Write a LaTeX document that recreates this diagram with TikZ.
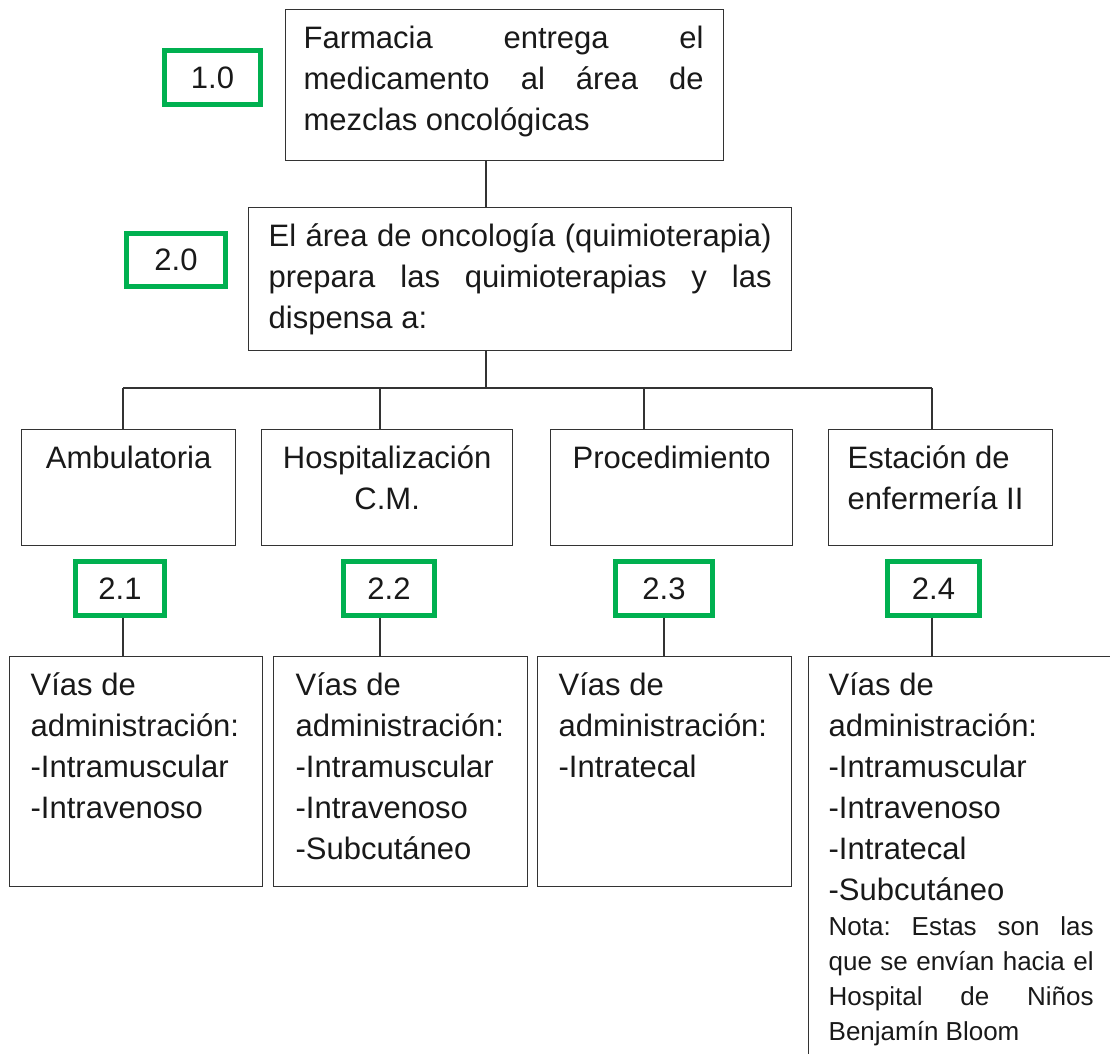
\documentclass[tikz,border=0pt]{standalone}
\usepackage{fontspec}
\setmainfont{Liberation Sans}
\definecolor{verde}{HTML}{00B050}
\frenchspacing
\hyphenpenalty=10000
\tolerance=10000
\hbadness=10000
\tikzstyle{caja}=[draw=black!80, line width=1.3pt, inner sep=0, anchor=north west,
                  text=black!90]
\tikzstyle{num}=[draw=verde, line width=4.5pt, inner sep=0, minimum height=54pt,
                 text=black!90]
\tikzstyle{linea}=[draw=black!80, line width=1.3pt]
% width, height, left and right margin, text
\newcommand{\bloque}[5]{\parbox[t][#2][t]{#1}{\leftskip=#3\relax\rightskip=#4\relax
  \rule{0pt}{39pt}#5}}

\begin{document}
\begin{tikzpicture}[x=1pt, y=-1pt, font=\fontsize{31}{41}\selectfont]
\clip (0,0) rectangle (1110,1053);
% farmacia y oncologia
\node[caja] (b1) at (285,9) {\bloque{438pt}{151pt}{18pt}{20pt}{Farmacia entrega
  el\linebreak medicamento al área de\linebreak mezclas oncológicas}};
\node[caja] (b2) at (248,207) {\bloque{543pt}{143pt}{20pt}{20pt}{El área de
  oncología (quimioterapia)\linebreak prepara las quimioterapias y
  las\linebreak dispensa a:}};
\node[num, minimum width=96pt] (g10) at (212.5,77.5) {1.0};
\node[num, minimum width=99pt, minimum height=53pt] (g20) at (176,260) {2.0};
% servicios
\node[caja] (amb) at (21,429) {\bloque{214pt}{116pt}{0pt}{0pt}{\centering Ambulatoria}};
\node[caja] (hosp) at (261,429) {\bloque{251pt}{116pt}{0pt}{0pt}{\centering
  Hospitalización\\C.M.}};
\node[caja] (proc) at (550,429) {\bloque{242pt}{116pt}{0pt}{0pt}{\centering Procedimiento}};
\node[caja] (est) at (828,429) {\bloque{224pt}{116pt}{19pt}{0pt}{Estación de\\enfermería II}};
\node[num, minimum width=89pt] (g21) at (120,588.5) {2.1};
\node[num, minimum width=91pt] (g22) at (389,588.5) {2.2};
\node[num, minimum width=97pt] (g23) at (664,588.5) {2.3};
\node[num, minimum width=92pt] (g24) at (933.5,588.5) {2.4};
% vias de administracion
\node[caja] (v1) at (9,656) {\bloque{253pt}{230pt}{21pt}{0pt}{Vías
  de\\administración:\\-Intramuscular\\-Intravenoso}};
\node[caja] (v2) at (273,656) {\bloque{254pt}{230pt}{22pt}{0pt}{Vías
  de\\administración:\\-Intramuscular\\-Intravenoso\\-Subcutáneo}};
\node[caja] (v3) at (537,656) {\bloque{254pt}{230pt}{21pt}{0pt}{Vías
  de\\administración:\\-Intratecal}};
\node[caja] (v4) at (808,656) {\bloque{330pt}{430pt}{20pt}{45pt}{Vías
  de\\administración:\\-Intramuscular\\-Intravenoso\\-Intratecal\\-Subcutáneo\par
  \fontsize{26}{35}\selectfont Nota: Estas son las\linebreak que se envían hacia
  el\linebreak Hospital de Niños\linebreak Benjamín Bloom}};
% conectores
\coordinate (bus) at (486,388);
\coordinate (k1) at (123,388);
\coordinate (k2) at (380,388);
\coordinate (k3) at (644,388);
\coordinate (k4) at (932,388);
\draw[linea] (b1.south -| bus) -- (b2.north -| bus);
\draw[linea] (b2.south -| bus) -- (bus);
\draw[linea] (k1) -- (k4);
\foreach \k/\n in {k1/amb,k2/hosp,k3/proc,k4/est}
  \draw[linea] (\k) -- (\k |- \n.north);
\draw[linea] (g21.south -| k1) -- (v1.north -| k1);
\draw[linea] (g22.south -| k2) -- (v2.north -| k2);
\draw[linea] (g23.south) -- (g23.south |- v3.north);
\draw[linea] (g24.south -| k4) -- (v4.north -| k4);
\end{tikzpicture}
\end{document}
